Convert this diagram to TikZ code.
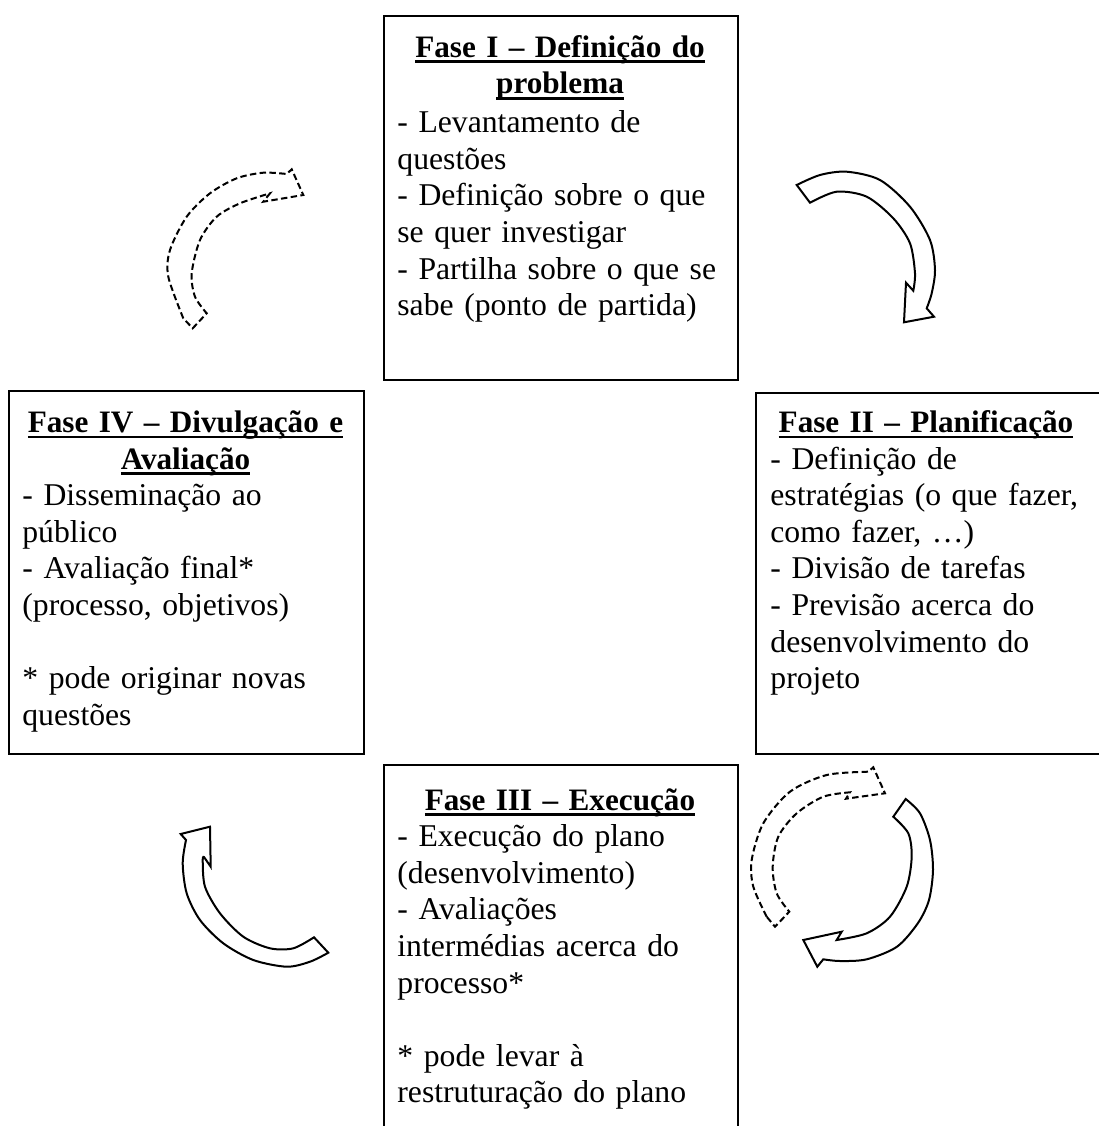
\documentclass[tikz,border=0pt]{standalone}
\usepackage{fontspec}
\setmainfont{Liberation Serif}
% thick underline used for the phase titles
\newsavebox\ulinebox
\newcommand\ulin[1]{\leavevmode\sbox\ulinebox{#1}\rlap{\rule[-3pt]{\wd\ulinebox}{1.35pt}}\usebox\ulinebox}
\tikzset{
  phasebox/.style={draw=black, line width=1pt, inner sep=0pt, anchor=north west},
  txt/.style={inner sep=0pt, text width=170pt},
  ttl/.style={txt, anchor=north, align=center, font=\fontsize{15.6}{18.3}\selectfont\bfseries},
  body/.style={txt, anchor=north west, align=left, font=\fontsize{15.85}{18.3}\selectfont},
  solidarrow/.style={draw=black, line width=1pt, fill=white, line join=miter},
  dasharrow/.style={draw=black, line width=1pt, dash pattern=on 3.2pt off 1.7pt, fill=white, line join=miter},
}
\begin{document}
\begin{tikzpicture}[x=0.5pt, y=-0.5pt]
\useasboundingbox (0,0) rectangle (1099,1126);

% phase boxes
\node[phasebox, minimum width=177pt, minimum height=182pt] (fase1) at (383,15) {};
\node[phasebox, minimum width=177.5pt, minimum height=181.5pt] (fase4) at (8,390) {};
\node[phasebox, minimum width=175pt, minimum height=180.5pt] (fase2) at (755,392) {};
\node[phasebox, minimum width=177pt, minimum height=190pt] (fase3) at (383,764) {};

% Fase I
\node[ttl] (t1) at (560,31) {\strut\ulin{Fase I – Definição do}\\\ulin{problema}};
\node[body] (b1) at (397,106.6) {\strut - Levantamento de\\questões\\- Definição sobre o que\\se quer investigar\\- Partilha sobre o que se\\sabe (ponto de partida)};

% Fase II
\node[ttl] (t2) at (926,406.4) {\strut\ulin{Fase II – Planificação}};
\node[body] (b2) at (770,443) {\strut - Definição de\\estratégias (o que fazer,\\como fazer, …)\\- Divisão de tarefas\\- Previsão acerca do\\desenvolvimento do\\projeto};

% Fase III
\node[ttl] (t3) at (560,784) {\strut\ulin{Fase III – Execução}};
\node[body] (b3) at (397,820.6) {\strut - Execução do plano\\(desenvolvimento)\\- Avaliações\\intermédias acerca do\\processo*\\[18.3pt]* pode levar à\\restruturação do plano};

% Fase IV
\node[ttl] (t4) at (185.5,406.4) {\strut\ulin{Fase IV – Divulgação e}\\\ulin{Avaliação}};
\node[body] (b4) at (22,479.6) {\strut - Disseminação ao\\público\\- Avaliação final*\\(processo, objetivos)\\[18.3pt]* pode originar novas\\questões};

% curved block arrows
% IV -> I (dashed)
\draw[dasharrow] plot[smooth] coordinates {(183.3,318.3) (168.3,276.7) (170,250) (186.7,216.7) (210,193.3) (236.7,178.3) (263.3,172.7) (286.7,174)}
  -- (291.7,169.3) -- (303.3,195) -- (263.3,201.7) -- (270,193.3)
  -- plot[smooth] coordinates {(270,193.3) (240,203.3) (216.7,216.7) (200,240) (191.7,273.3) (195,296.7) (206.7,313.3)}
  -- (192.7,328.3) -- cycle;

% I -> II
\draw[solidarrow] plot[smooth] coordinates {(796.7,185) (820,175) (846.7,171.7) (880,180) (910,206.7) (930,240) (935,270) (931.7,293.3) (926.7,308.3)}
  -- (934,316.7) -- (904,322.3) -- (906,282.7) -- (913.3,290.7)
  -- plot[smooth] coordinates {(913.3,290.7) (915,273.3) (910,243.3) (893.3,218.3) (866.7,196.7) (836.7,191.7) (810,202.7)}
  -- cycle;

% III -> II (dashed)
\draw[dasharrow] plot[smooth] coordinates {(766.7,916.7) (753.3,886.7) (751.7,860) (763.3,823.3) (790,791.7) (826.7,775) (868.3,771.7)}
  -- (873.3,767.3) -- (885,793.3) -- (846,798.7) -- (850,792.3)
  -- plot[smooth] coordinates {(850,792.3) (823.3,796.7) (796.7,813.3) (778.3,836.7) (772.7,866.7) (776.7,893.3) (789.3,911.7)}
  -- (775,926.7) -- cycle;

% II -> III
\draw[solidarrow] plot[smooth] coordinates {(905.7,799) (920,813.3) (930,840) (933,870) (929,900) (918,923) (897,946.7) (866.7,959.3) (840,961) (823.3,959.3)}
  -- (817.3,966.7) -- (803.3,940) -- (841.7,931.7) -- (836.7,940)
  -- plot[smooth] coordinates {(836.7,940) (866.7,933.3) (890,916.7) (906.7,886.7) (911.7,856.7) (908.3,833.3) (893.3,816.7)}
  -- cycle;

% III -> IV
\draw[solidarrow] plot[smooth] coordinates {(186,840) (182.7,863.3) (186.7,893.3) (200,920) (223.3,943.3) (253.3,960) (286.7,966.7) (310,961.7) (328.3,952.7)}
  -- (314,937.3)
  -- plot[smooth] coordinates {(314,937.3) (293.3,948.3) (270,948.3) (243.3,936.7) (220,913.3) (205,886.7) (202.7,860) (204,857)}
  -- (210.7,866.7) -- (210,826.7) -- (180.7,834) -- cycle;
\end{tikzpicture}
\end{document}
